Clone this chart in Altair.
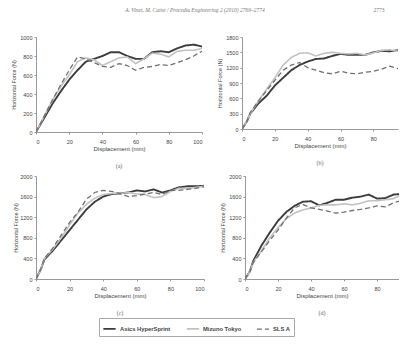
import altair as alt
import pandas as pd

X = [0, 3, 5, 10, 15, 20, 25, 30, 35, 40, 45, 50, 55, 60, 65, 70, 75, 80, 85, 90, 95, 100]
SERIES = ["Asics HyperSprint", "Mizuno Tokyo", "SLS A"]

A_asics = [0, 90, 150, 300, 430, 550, 650, 740, 770, 800, 840, 840, 800, 770, 770, 840, 850, 840, 880, 910, 920, 900]
A_mizuno = [0, 100, 170, 340, 480, 600, 740, 780, 760, 700, 740, 780, 790, 720, 770, 830, 820, 790, 850, 860, 860, 880]
A_sls = [0, 100, 170, 340, 500, 650, 790, 770, 730, 690, 680, 720, 700, 650, 680, 690, 710, 700, 730, 760, 800, 850]

B_asics = [0, 150, 300, 500, 650, 850, 1000, 1150, 1250, 1320, 1370, 1380, 1430, 1470, 1450, 1450, 1450, 1500, 1530, 1520, 1540, 1560]
B_mizuno = [0, 150, 300, 550, 780, 1000, 1250, 1400, 1480, 1490, 1430, 1480, 1500, 1480, 1470, 1480, 1450, 1490, 1540, 1550, 1520, 1520]
B_sls = [0, 150, 320, 550, 750, 950, 1150, 1250, 1300, 1200, 1150, 1100, 1080, 1130, 1090, 1080, 1110, 1130, 1170, 1230, 1180, 1250]

C_asics = [0, 200, 380, 550, 750, 950, 1150, 1350, 1500, 1600, 1650, 1660, 1680, 1720, 1700, 1740, 1680, 1720, 1780, 1800, 1800, 1810]
C_mizuno = [0, 200, 400, 580, 800, 1050, 1280, 1450, 1570, 1640, 1660, 1660, 1680, 1650, 1640, 1580, 1600, 1700, 1760, 1760, 1780, 1800]
C_sls = [0, 200, 400, 600, 850, 1100, 1300, 1550, 1680, 1720, 1700, 1660, 1600, 1620, 1650, 1680, 1640, 1720, 1720, 1740, 1760, 1790]

D_asics = [0, 150, 350, 650, 900, 1130, 1300, 1420, 1500, 1510, 1430, 1480, 1540, 1540, 1580, 1600, 1640, 1560, 1570, 1640, 1650, 1760]
D_mizuno = [0, 150, 320, 550, 800, 1000, 1170, 1280, 1340, 1380, 1430, 1440, 1440, 1460, 1440, 1470, 1520, 1520, 1540, 1560, 1640, 1720]
D_sls = [0, 150, 320, 530, 750, 950, 1180, 1380, 1450, 1380, 1350, 1320, 1280, 1300, 1330, 1350, 1380, 1420, 1400, 1480, 1520, 1530]

HEADER = "A. Vinet, M. Caine / Procedia Engineering 2 (2010) 2769–2774"
PAGE = "2773"
X_TICKS = [0, 20, 40, 60, 80, 100]


def frame(vals):
    rows = []
    for name, ys in zip(SERIES, vals):
        for x, y in zip(X, ys):
            rows.append({"x": x, "y": y, "series": name})
    return pd.DataFrame(rows)


color_scale = alt.Scale(domain=SERIES, range=["#3c3c3c", "#c2c2c2", "#707070"])
dash_scale = alt.Scale(domain=SERIES, range=[[1, 0], [1, 0], [5, 3]])
width_scale = alt.Scale(domain=SERIES, range=[1.9, 1.3, 1.5])


def panel(vals, ymax, ystep, label, w, h, xmax, tpad):
    df = frame(vals)
    return alt.Chart(df, title=alt.TitleParams(label, orient="bottom", font="Liberation Serif",
                                               fontSize=6, fontWeight="normal", color="#666",
                                               offset=11)).mark_line(clip=True).encode(
        x=alt.X("x:Q", scale=alt.Scale(domain=[0, xmax], nice=False),
                axis=alt.Axis(values=[v for v in X_TICKS if v <= xmax],
                              title="Displacement (mm)", format="d")),
        y=alt.Y("y:Q", scale=alt.Scale(domain=[0, ymax], nice=False),
                axis=alt.Axis(values=list(range(0, ymax + 1, ystep)), title="Horizontal Force (N)",
                              format="d", titlePadding=tpad)),
        color=alt.Color("series:N", scale=color_scale, title=None, sort=SERIES),
        strokeDash=alt.StrokeDash("series:N", scale=dash_scale, title=None, sort=SERIES),
        strokeWidth=alt.StrokeWidth("series:N", scale=width_scale, title=None, sort=SERIES),
    ).properties(width=w, height=h)


pa = panel([A_asics, A_mizuno, A_sls], 1000, 200, "(a)", 166, 95, 100, 3)
pb = panel([B_asics, B_mizuno, B_sls], 1800, 300, "(b)", 156, 92, 95, 3)
pc = panel([C_asics, C_mizuno, C_sls], 2000, 400, "(c)", 168, 103, 100, 1)
pd_ = panel([D_asics, D_mizuno, D_sls], 2000, 400, "(d)", 154, 103, 93.3, 3)

header = alt.layer(
    alt.Chart(pd.DataFrame({"t": [HEADER]})).mark_text(
        font="Liberation Serif", fontStyle="italic", fontSize=5.5, color="#777", baseline="top"
    ).encode(text="t:N", x=alt.value(159), y=alt.value(0)),
    alt.Chart(pd.DataFrame({"t": [PAGE]})).mark_text(
        font="Liberation Serif", fontSize=5.5, color="#777", baseline="top"
    ).encode(text="t:N", x=alt.value(343), y=alt.value(0)),
).properties(width=330, height=22)

row1 = alt.hconcat(pa, pb, spacing=14)
row2 = alt.hconcat(pc, pd_, spacing=15)

chart = alt.vconcat(header, row1, row2, spacing=5).resolve_scale(
    color="shared", strokeDash="shared", strokeWidth="shared"
).configure_view(stroke=None).configure_axis(
    grid=False, domainColor="#999", tickColor="#999", tickSize=2, labelFontSize=5.5,
    labelColor="#444", titleFontSize=5.5, titleColor="#444", labelFont="Liberation Sans",
    titleFont="Liberation Sans", titleFontWeight="normal", labelPadding=2
).configure_axisX(labelPadding=5, titlePadding=1, titleFontSize=6).configure_legend(
    orient="none", legendX=63, legendY=310, direction="horizontal", symbolType="stroke",
    symbolSize=150, labelFontSize=5.8, labelColor="#444", labelFont="Liberation Sans",
    strokeColor="#aaa", padding=3, columnPadding=12, labelFontWeight="bold", labelOffset=3
).properties(background="white", padding={"left": 3, "top": 0, "right": 0, "bottom": 0})

chart.save("out.html", embed_options={"renderer": "svg", "actions": False})
